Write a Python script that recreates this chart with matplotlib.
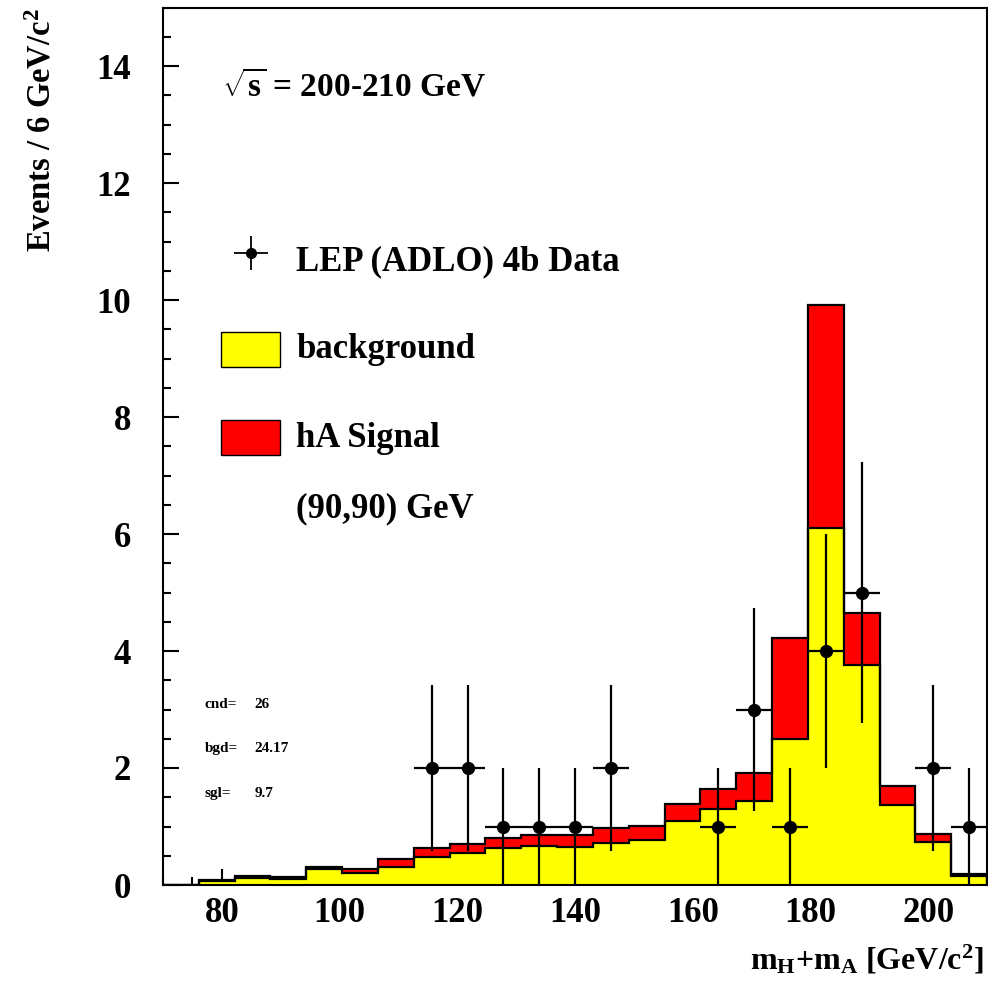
import numpy as np
import matplotlib
matplotlib.use("Agg")
import matplotlib.pyplot as plt
from matplotlib.patches import Rectangle
from matplotlib.ticker import MultipleLocator

plt.rcParams['font.family'] = ['Liberation Serif', 'DejaVu Serif']
plt.rcParams['font.weight'] = 'bold'
plt.rcParams['mathtext.fontset'] = 'custom'
plt.rcParams['mathtext.rm'] = 'Liberation Serif:bold'
plt.rcParams['mathtext.bf'] = 'Liberation Serif:bold'
plt.rcParams['mathtext.it'] = 'Liberation Serif:bold'

# ---------------------------
# Data (23 bins from 70 to 210 GeV)
# ---------------------------
x_min, x_max = 70, 210
n_bins = 23
background = [0.0, 0.06, 0.12, 0.10, 0.27, 0.20, 0.30, 0.48, 0.54, 0.63, 0.67, 0.65,
              0.72, 0.77, 1.10, 1.30, 1.44, 2.49, 6.10, 3.76, 1.37, 0.74, 0.15]
signal = [0.0, 0.03, 0.035, 0.03, 0.04, 0.08, 0.14, 0.16, 0.16, 0.17, 0.18, 0.21,
          0.25, 0.24, 0.29, 0.34, 0.47, 1.73, 3.81, 0.89, 0.32, 0.14, 0.04]
data_counts = [0, 0, 0, 0, 0, 0, 0, 2, 2, 1, 1, 1, 2, 0, 0, 1, 3, 1, 4, 5, 0, 2, 1]

summary_labels = ["cnd=", "bgd=", "sgl="]
summary_values = ["26", "24.17", "9.7"]

edges = np.linspace(x_min, x_max, n_bins + 1)
centers = 0.5 * (edges[:-1] + edges[1:])
width = edges[1] - edges[0]
bkg = np.array(background)
total = bkg + np.array(signal)
counts = np.array(data_counts, dtype=float)
has_data = counts > 0

# ---------------------------
# Figure
# ---------------------------
fig = plt.figure(figsize=(9.88, 9.85), dpi=100)
ax = fig.add_axes([163 / 988, 1 - 885 / 985, 824 / 988, 877.5 / 985])

ax.stairs(total, edges, fill=True, color='#ff0000', zorder=1)
ax.stairs(bkg, edges, fill=True, color='#ffff00', zorder=2)
ax.stairs(total, edges, color='black', lw=1.6, zorder=3)
ax.stairs(bkg, edges, color='black', lw=1.6, zorder=3)

ax.errorbar(centers[has_data], counts[has_data], yerr=np.sqrt(counts[has_data]),
            xerr=width / 2, fmt='o', color='black', ms=8.5, elinewidth=1.6,
            capsize=0, zorder=5)

ax.set_xlim(x_min, x_max)
ax.set_ylim(0, 15)
ax.xaxis.set_major_locator(MultipleLocator(20))
ax.xaxis.set_minor_locator(MultipleLocator(5))
ax.yaxis.set_major_locator(MultipleLocator(2))
ax.yaxis.set_minor_locator(MultipleLocator(0.5))
ax.tick_params(which='both', direction='in', width=1.5, top=False, right=False)
ax.tick_params(which='major', length=11.5)
ax.tick_params(which='minor', length=5.8)
ax.tick_params(axis='y', which='major', pad=23, labelsize=25)
ax.tick_params(axis='x', which='major', pad=9, labelsize=25)
for lab in ax.get_xticklabels() + ax.get_yticklabels():
    lab.set_fontweight('bold')
for sp in ax.spines.values():
    sp.set_linewidth(1.5)

# axis titles
fig.text(42 / 988, 1 - 8 / 985, r"Events / 6 GeV/c$^\mathregular{2}$",
         rotation=90, ha='center', va='top', fontsize=23.5, fontweight='bold')
fig.text(984 / 988, 1 - 970 / 985,
         r"m$_\mathregular{H}$+m$_\mathregular{A}$ [GeV/c$^\mathregular{2}$]",
         ha='right', va='baseline', fontsize=23, fontweight='bold')

# energy label
ax.text(80.0, 13.5, r"$\sqrt{s}$ = 200-210 GeV", ha='left', va='baseline',
        fontsize=24, fontweight='bold')

# legend
ax.errorbar([84.95], [10.8], xerr=2.9, yerr=0.29, fmt='o', color='black',
            ms=7, elinewidth=1.3, capsize=0)
ax.text(92.6, 10.5, "LEP (ADLO) 4b Data", va='baseline', fontsize=25, fontweight='bold')
ax.add_patch(Rectangle((79.86, 8.85), 10.03, 0.6, facecolor='#ffff00',
                       edgecolor='black', lw=1.0))
ax.text(92.6, 9.01, "background", va='baseline', fontsize=25, fontweight='bold')
ax.add_patch(Rectangle((79.86, 7.35), 10.03, 0.6, facecolor='#ff0000',
                       edgecolor='black', lw=1.0))
ax.text(92.6, 7.49, "hA Signal", va='baseline', fontsize=25, fontweight='bold')
ax.text(92.6, 6.29, "(90,90) GeV", va='baseline', fontsize=25, fontweight='bold')

# event summary
for i, (lab, val) in enumerate(zip(summary_labels, summary_values)):
    y = 3.08 - 0.755 * i
    ax.text(77.1, y, lab, va='center', fontsize=11, fontweight='bold')
    ax.text(85.5, y, val, va='center', fontsize=11, fontweight='bold')

fig.savefig("out.png", dpi=100)
